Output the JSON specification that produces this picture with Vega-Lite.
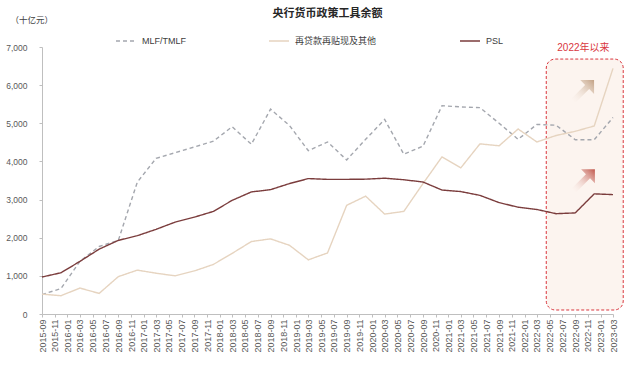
{
  "$schema": "https://vega.github.io/schema/vega-lite/v6.json",
  "autosize": "none",
  "width": 571,
  "height": 267,
  "padding": {"left": 42, "top": 47, "right": 27, "bottom": 70},
  "background": "white",
  "config": {
    "font": "Liberation Sans, Noto Sans CJK SC",
    "view": {"stroke": null}
  },
  "title": {
    "text": "央行货币政策工具余额",
    "fontSize": 11,
    "fontWeight": "bold",
    "color": "#262626",
    "anchor": "middle",
    "frame": "group",
    "offset": -4
  },
  "datasets": {
    "tools": [
      {"date": "2015-09-01", "series": "MLF/TMLF", "value": 510},
      {"date": "2015-12-01", "series": "MLF/TMLF", "value": 666},
      {"date": "2016-03-01", "series": "MLF/TMLF", "value": 1380},
      {"date": "2016-06-01", "series": "MLF/TMLF", "value": 1770},
      {"date": "2016-09-01", "series": "MLF/TMLF", "value": 1930},
      {"date": "2016-12-01", "series": "MLF/TMLF", "value": 3457},
      {"date": "2017-03-01", "series": "MLF/TMLF", "value": 4080},
      {"date": "2017-06-01", "series": "MLF/TMLF", "value": 4230},
      {"date": "2017-09-01", "series": "MLF/TMLF", "value": 4380},
      {"date": "2017-12-01", "series": "MLF/TMLF", "value": 4530},
      {"date": "2018-03-01", "series": "MLF/TMLF", "value": 4910},
      {"date": "2018-06-01", "series": "MLF/TMLF", "value": 4450},
      {"date": "2018-09-01", "series": "MLF/TMLF", "value": 5370},
      {"date": "2018-12-01", "series": "MLF/TMLF", "value": 4940},
      {"date": "2019-03-01", "series": "MLF/TMLF", "value": 4280},
      {"date": "2019-06-01", "series": "MLF/TMLF", "value": 4510},
      {"date": "2019-09-01", "series": "MLF/TMLF", "value": 4040},
      {"date": "2019-12-01", "series": "MLF/TMLF", "value": 4580},
      {"date": "2020-03-01", "series": "MLF/TMLF", "value": 5100},
      {"date": "2020-06-01", "series": "MLF/TMLF", "value": 4190},
      {"date": "2020-09-01", "series": "MLF/TMLF", "value": 4400},
      {"date": "2020-12-01", "series": "MLF/TMLF", "value": 5460},
      {"date": "2021-03-01", "series": "MLF/TMLF", "value": 5430},
      {"date": "2021-06-01", "series": "MLF/TMLF", "value": 5410},
      {"date": "2021-09-01", "series": "MLF/TMLF", "value": 5000},
      {"date": "2021-12-01", "series": "MLF/TMLF", "value": 4580},
      {"date": "2022-03-01", "series": "MLF/TMLF", "value": 4970},
      {"date": "2022-06-01", "series": "MLF/TMLF", "value": 4950},
      {"date": "2022-09-01", "series": "MLF/TMLF", "value": 4570},
      {"date": "2022-12-01", "series": "MLF/TMLF", "value": 4570},
      {"date": "2023-03-01", "series": "MLF/TMLF", "value": 5150},
      {"date": "2015-09-01", "series": "再贷款再贴现及其他", "value": 520},
      {"date": "2015-12-01", "series": "再贷款再贴现及其他", "value": 480},
      {"date": "2016-03-01", "series": "再贷款再贴现及其他", "value": 680},
      {"date": "2016-06-01", "series": "再贷款再贴现及其他", "value": 540},
      {"date": "2016-09-01", "series": "再贷款再贴现及其他", "value": 980},
      {"date": "2016-12-01", "series": "再贷款再贴现及其他", "value": 1150},
      {"date": "2017-03-01", "series": "再贷款再贴现及其他", "value": 1070},
      {"date": "2017-06-01", "series": "再贷款再贴现及其他", "value": 1000},
      {"date": "2017-09-01", "series": "再贷款再贴现及其他", "value": 1130},
      {"date": "2017-12-01", "series": "再贷款再贴现及其他", "value": 1300},
      {"date": "2018-03-01", "series": "再贷款再贴现及其他", "value": 1590},
      {"date": "2018-06-01", "series": "再贷款再贴现及其他", "value": 1900},
      {"date": "2018-09-01", "series": "再贷款再贴现及其他", "value": 1970},
      {"date": "2018-12-01", "series": "再贷款再贴现及其他", "value": 1800},
      {"date": "2019-03-01", "series": "再贷款再贴现及其他", "value": 1420},
      {"date": "2019-06-01", "series": "再贷款再贴现及其他", "value": 1600},
      {"date": "2019-09-01", "series": "再贷款再贴现及其他", "value": 2850},
      {"date": "2019-12-01", "series": "再贷款再贴现及其他", "value": 3090},
      {"date": "2020-03-01", "series": "再贷款再贴现及其他", "value": 2620},
      {"date": "2020-06-01", "series": "再贷款再贴现及其他", "value": 2690},
      {"date": "2020-09-01", "series": "再贷款再贴现及其他", "value": 3420},
      {"date": "2020-12-01", "series": "再贷款再贴现及其他", "value": 4120},
      {"date": "2021-03-01", "series": "再贷款再贴现及其他", "value": 3830},
      {"date": "2021-06-01", "series": "再贷款再贴现及其他", "value": 4460},
      {"date": "2021-09-01", "series": "再贷款再贴现及其他", "value": 4410},
      {"date": "2021-12-01", "series": "再贷款再贴现及其他", "value": 4850},
      {"date": "2022-03-01", "series": "再贷款再贴现及其他", "value": 4510},
      {"date": "2022-06-01", "series": "再贷款再贴现及其他", "value": 4680},
      {"date": "2022-09-01", "series": "再贷款再贴现及其他", "value": 4790},
      {"date": "2022-12-01", "series": "再贷款再贴现及其他", "value": 4930},
      {"date": "2023-03-01", "series": "再贷款再贴现及其他", "value": 6440},
      {"date": "2015-09-01", "series": "PSL", "value": 970},
      {"date": "2015-12-01", "series": "PSL", "value": 1081},
      {"date": "2016-03-01", "series": "PSL", "value": 1380},
      {"date": "2016-06-01", "series": "PSL", "value": 1700},
      {"date": "2016-09-01", "series": "PSL", "value": 1930},
      {"date": "2016-12-01", "series": "PSL", "value": 2053},
      {"date": "2017-03-01", "series": "PSL", "value": 2220},
      {"date": "2017-06-01", "series": "PSL", "value": 2410},
      {"date": "2017-09-01", "series": "PSL", "value": 2540},
      {"date": "2017-12-01", "series": "PSL", "value": 2690},
      {"date": "2018-03-01", "series": "PSL", "value": 2980},
      {"date": "2018-06-01", "series": "PSL", "value": 3200},
      {"date": "2018-09-01", "series": "PSL", "value": 3260},
      {"date": "2018-12-01", "series": "PSL", "value": 3420},
      {"date": "2019-03-01", "series": "PSL", "value": 3550},
      {"date": "2019-06-01", "series": "PSL", "value": 3530},
      {"date": "2019-09-01", "series": "PSL", "value": 3530},
      {"date": "2019-12-01", "series": "PSL", "value": 3535},
      {"date": "2020-03-01", "series": "PSL", "value": 3560},
      {"date": "2020-06-01", "series": "PSL", "value": 3520},
      {"date": "2020-09-01", "series": "PSL", "value": 3460},
      {"date": "2020-12-01", "series": "PSL", "value": 3250},
      {"date": "2021-03-01", "series": "PSL", "value": 3210},
      {"date": "2021-06-01", "series": "PSL", "value": 3110},
      {"date": "2021-09-01", "series": "PSL", "value": 2920},
      {"date": "2021-12-01", "series": "PSL", "value": 2800},
      {"date": "2022-03-01", "series": "PSL", "value": 2740},
      {"date": "2022-06-01", "series": "PSL", "value": 2630},
      {"date": "2022-09-01", "series": "PSL", "value": 2650},
      {"date": "2022-12-01", "series": "PSL", "value": 3150},
      {"date": "2023-03-01", "series": "PSL", "value": 3130}
    ]
  },
  "encoding": {
    "x": {
      "field": "date",
      "type": "temporal",
      "scale": {
        "type": "utc",
        "domain": [
          {"year": 2015, "month": 9, "date": 1, "utc": true},
          {"year": 2023, "month": 3, "date": 1, "utc": true}
        ],
        "nice": false
      },
      "axis": {
        "title": null,
        "tickCount": {"interval": "month", "step": 2},
        "labelExpr": "utcFormat(datum.value, '%Y-%m')",
        "labelAngle": -90,
        "labelOverlap": false,
        "labelFlush": false,
        "labelBound": false,
        "labelFontSize": 9,
        "labelColor": "#595959",
        "labelPadding": 2,
        "domainColor": "#bfbfbf",
        "tickColor": "#bfbfbf",
        "tickSize": 3,
        "grid": false
      }
    },
    "y": {
      "field": "value",
      "type": "quantitative",
      "scale": {"domain": [0, 7000], "nice": false},
      "axis": {
        "title": "（十亿元）",
        "titleAngle": 0,
        "titleAlign": "left",
        "titleBaseline": "middle",
        "titleX": -32,
        "titleY": -28,
        "titleFontSize": 8.5,
        "titleFontWeight": "normal",
        "titleColor": "#404040",
        "values": [0, 1000, 2000, 3000, 4000, 5000, 6000, 7000],
        "format": ",.0f",
        "labelFontSize": 8.5,
        "labelColor": "#595959",
        "labelPadding": 12,
        "domainColor": "#bfbfbf",
        "tickColor": "#bfbfbf",
        "tickSize": 3,
        "grid": false
      }
    }
  },
  "layer": [
    {
      "data": {"values": [{"date": "2022-04-15", "end": "2023-04-19", "value": 105, "high": 6684}]},
      "mark": {"type": "rect", "fill": "#fcf4ef", "stroke": "#d9363e", "strokeDash": [3, 2], "strokeWidth": 1, "cornerRadius": 9},
      "encoding": {
        "x2": {"field": "end"},
        "y2": {"field": "high"}
      }
    },
    {
      "data": {"values": [{"date": "2022-10-06", "value": 5830}]},
      "mark": {
        "type": "point",
        "shape": "M 1 -1 L 1 0.2 L 0.577 -0.223 L -0.623 0.977 L -0.977 0.623 L 0.223 -0.577 L -0.2 -1 Z",
        "filled": true,
        "size": 530,
        "opacity": 1,
        "strokeWidth": 0,
        "fill": {"gradient": "linear", "x1": 0, "y1": 1, "x2": 1, "y2": 0, "stops": [{"offset": 0, "color": "rgba(252,244,239,0)"}, {"offset": 1, "color": "#c2a184"}]}
      }
    },
    {
      "data": {"values": [{"date": "2022-10-10", "value": 3490}]},
      "mark": {
        "type": "point",
        "shape": "M 1 -1 L 1 0.2 L 0.577 -0.223 L -0.623 0.977 L -0.977 0.623 L 0.223 -0.577 L -0.2 -1 Z",
        "filled": true,
        "size": 530,
        "opacity": 1,
        "strokeWidth": 0,
        "fill": {"gradient": "linear", "x1": 0, "y1": 1, "x2": 1, "y2": 0, "stops": [{"offset": 0, "color": "rgba(252,244,239,0)"}, {"offset": 1, "color": "#c0564b"}]}
      }
    },
    {
      "data": {"name": "tools"},
      "mark": {"type": "line", "strokeWidth": 1.4},
      "encoding": {
        "color": {
          "field": "series",
          "type": "nominal",
          "scale": {"domain": ["MLF/TMLF", "再贷款再贴现及其他", "PSL"], "range": ["#a4a7ae", "#e6d4c0", "#7b3d3d"]},
          "legend": {
            "title": null,
            "orient": "none",
            "legendX": 73,
            "legendY": -17,
            "direction": "horizontal",
            "symbolType": "stroke",
            "symbolSize": 400,
            "symbolStrokeWidth": 1.5,
            "labelFontSize": 9,
            "labelColor": "#404040",
            "labelOffset": 5,
            "columnPadding": 80
          }
        },
        "strokeDash": {
          "field": "series",
          "type": "nominal",
          "scale": {"domain": ["MLF/TMLF", "再贷款再贴现及其他", "PSL"], "range": [[4, 3], [1, 0], [1, 0]]},
          "legend": {
            "title": null,
            "orient": "none",
            "legendX": 73,
            "legendY": -17,
            "direction": "horizontal",
            "symbolType": "stroke",
            "symbolSize": 400,
            "symbolStrokeWidth": 1.5,
            "labelFontSize": 9,
            "labelColor": "#404040",
            "labelOffset": 5,
            "columnPadding": 80
          }
        }
      }
    },
    {
      "data": {"values": [{"date": "2022-10-10", "value": 6980, "label": "2022年以来"}]},
      "mark": {"type": "text", "color": "#d9363e", "fontSize": 10, "baseline": "middle", "align": "center"},
      "encoding": {"text": {"field": "label"}}
    }
  ]
}
